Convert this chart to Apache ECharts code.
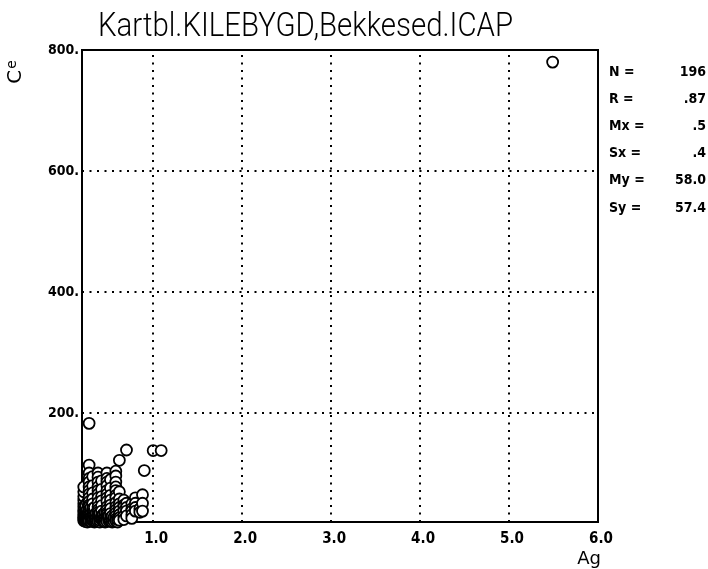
<!DOCTYPE html>
<html>
<head>
<meta charset="utf-8">
<script src="https://cdn.jsdelivr.net/npm/echarts@6/dist/echarts.min.js"></script>
<style>
  html, body { margin: 0; padding: 0; background: #fff; }
  #chart { width: 708px; height: 569px; }
</style>
</head>
<body>
<div id="chart"></div>
<script>
// Chart text
const titleText = 'Kartbl.KILEBYGD,Bekkesed.ICAP';
const xAxisName = 'Ag';
const yAxisName = 'Ce';

// Tick positions (labels and dotted grid)
const xTicks = [1, 2, 3, 4, 5, 6];
const yTicks = [200, 400, 600, 800];

// Summary statistics printed beside the plot
const statNames = ['N =', 'R =', 'Mx =', 'Sx =', 'My =', 'Sy ='];
const statValues = ['196', '.87', '.5', '.4', '58.0', '57.4'];

// Sample values: Ag (x) and Ce (y), one entry per sample
const agValues = [
  0.22,0.22,0.22,0.22,0.22,0.22,0.22,0.22,0.22,0.22,0.22,0.22,
  0.24,0.24,0.24,0.24,0.24,0.24,0.24,0.24,
  0.26,0.26,0.26,0.26,0.26,0.26,0.26,0.26,
  0.28,0.28,0.28,0.28,0.28,0.28,0.28,0.28,0.28,0.28,0.28,0.28,0.28,0.28,0.28,0.28,0.28,0.28,
  0.30,0.30,0.30,0.30,0.30,0.30,0.30,
  0.32,0.32,0.32,0.32,0.32,0.32,0.32,0.32,0.32,0.32,
  0.34,0.34,0.34,0.34,0.34,0.34,0.34,
  0.36,0.36,0.36,0.36,
  0.38,0.38,0.38,0.38,0.38,0.38,0.38,0.38,0.38,0.38,0.38,0.38,0.38,0.38,0.38,
  0.40,0.40,0.40,0.40,0.40,
  0.42,0.42,0.42,0.42,0.42,0.42,0.42,0.42,
  0.44,0.44,0.44,0.44,
  0.46,0.46,0.46,0.46,
  0.48,0.48,0.48,0.48,0.48,0.48,0.48,0.48,0.48,0.48,0.48,0.48,0.48,0.48,0.48,
  0.50,0.50,0.50,
  0.52,0.52,0.52,0.52,0.52,0.52,0.52,0.52,0.52,
  0.54,0.54,0.54,
  0.56,0.56,
  0.58,0.58,0.58,0.58,0.58,0.58,0.58,0.58,0.58,0.58,0.58,0.58,0.58,0.58,
  0.60,0.60,
  0.62,0.62,0.62,0.62,0.62,0.62,0.62,0.62,0.62,
  0.67,0.67,0.67,0.67,0.67,0.67,
  0.70,0.70,0.70,0.70,0.70,
  0.76,0.76,0.76,0.76,0.76,
  0.80,0.80,0.80,0.80,
  0.85,0.85,
  0.88,0.88,0.88,
  0.90,
  1.00,
  1.09,
  5.49
];
const ceValues = [
  22,25,28,32,36,40,45,50,56,62,70,78,
  21,24,27,30,34,38,43,48,
  20,23,26,30,33,37,41,52,
  183,114,101,92,86,78,72,66,60,54,48,45,40,36,32,28,25,22,
  21,24,27,30,34,38,44,
  95,80,68,58,50,42,35,30,26,23,
  20,22,26,29,33,38,44,
  21,25,30,35,
  101,94,86,78,72,66,60,52,45,40,36,32,28,24,21,
  20,23,27,31,35,
  88,74,62,55,47,38,30,25,
  21,24,28,33,
  20,26,31,36,
  101,92,86,80,72,66,60,54,45,40,35,32,28,24,21,
  22,26,30,
  90,76,64,56,48,42,34,27,22,
  20,25,30,
  21,28,
  104,96,86,78,72,64,60,52,45,40,35,30,25,22,
  20,24,
  122,70,58,50,44,38,32,27,23,
  56,48,45,38,30,24,
  139,51,44,38,30,
  50,42,38,32,26,
  60,51,44,38,
  42,36,
  65,51,38,
  105,
  138,
  138,
  780
];

const points = agValues.map((a, i) => [a, ceValues[i]]);

// Narrow plotter-style lettering: squeeze a text horizontally to a target width
function fitScale(text, font, targetWidth) {
  const ctx = document.createElement('canvas').getContext('2d');
  ctx.font = font;
  const w = ctx.measureText(text).width;
  return w > 0 ? targetWidth / w : 1;
}

const titleFont = '300 34px Roboto';
const titleScale = fitScale(titleText, titleFont, 415);
const labelFont = '"DejaVu Sans Condensed", "DejaVu Sans"';

const chart = echarts.init(document.getElementById('chart'), null, { renderer: 'canvas' });

const dotted = { color: '#000', width: 2, type: [2, 5.5] };

const statGraphics = [];
statNames.forEach((name, i) => {
  const y = 72 + i * 27.2;
  statGraphics.push({
    type: 'text', x: 609, y: y,
    style: { text: name, font: 'bold 14px ' + labelFont, fill: '#000', textVerticalAlign: 'middle' }
  });
  statGraphics.push({
    type: 'text', x: 706, y: y,
    style: { text: statValues[i], font: 'bold 14px ' + labelFont, fill: '#000', textAlign: 'right', textVerticalAlign: 'middle' }
  });
});

chart.setOption({
  animation: false,
  backgroundColor: '#fff',
  grid: {
    left: 82, top: 50, right: 110, bottom: 47,
    show: true, borderColor: '#000', borderWidth: 2, backgroundColor: 'transparent'
  },
  xAxis: {
    type: 'value', min: 0.2, max: 6,
    axisLine: { show: true, lineStyle: { color: '#000', width: 2 } },
    axisTick: { show: false },
    splitLine: { show: false },
    axisLabel: {
      customValues: xTicks,
      formatter: v => v.toFixed(1),
      color: '#000', fontSize: 15, fontWeight: 'bold',
      fontFamily: labelFont,
      margin: 10, padding: [0, 0, 0, 6]
    }
  },
  yAxis: {
    type: 'value', min: 20, max: 800,
    axisLine: { show: true, lineStyle: { color: '#000', width: 2 } },
    axisTick: { show: false },
    splitLine: { show: false },
    axisLabel: {
      customValues: yTicks,
      formatter: v => v + '.',
      color: '#000', fontSize: 14, fontWeight: 'bold',
      fontFamily: labelFont,
      margin: 3, padding: [0, 0, 5, 0]
    }
  },
  series: [{
    type: 'scatter',
    data: points,
    symbol: 'circle',
    symbolSize: 11,
    clip: false,
    itemStyle: { color: '#fff', borderColor: '#000', borderWidth: 1.8, opacity: 1 },
    markLine: {
      silent: true,
      symbol: 'none',
      label: { show: false },
      lineStyle: dotted,
      data: xTicks.filter(v => v < 6).map(v => ({ xAxis: v }))
        .concat(yTicks.filter(v => v < 800).map(v => ({ yAxis: v })))
    },
    z: 3
  }],
  graphic: [
    {
      type: 'text', x: 98, y: 27, scaleX: titleScale,
      style: { text: titleText, font: titleFont, fill: '#000', textVerticalAlign: 'middle' }
    },
    {
      type: 'text', x: 16, y: 72, rotation: Math.PI / 2,
      style: {
        text: '{c|C}{e|e}',
        rich: {
          c: { fontSize: 20, fontFamily: '"DejaVu Sans"', fill: '#000' },
          e: { fontSize: 14, fontFamily: '"DejaVu Sans"', fill: '#000', padding: [0, 0, 8, 1] }
        },
        textAlign: 'center', textVerticalAlign: 'middle'
      }
    },
    {
      type: 'text', x: 589, y: 559,
      style: { text: xAxisName, font: '18px "DejaVu Sans"', fill: '#000', textAlign: 'center', textVerticalAlign: 'middle' }
    }
  ].concat(statGraphics)
});
</script>
</body>
</html>
